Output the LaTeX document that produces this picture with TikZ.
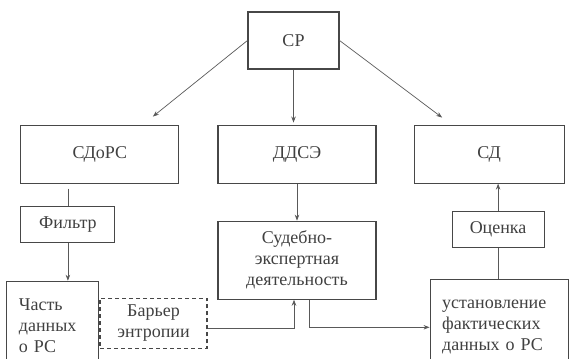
\documentclass[tikz,border=0pt]{standalone}
\usepackage{fontspec}
\setmainfont{Liberation Serif}
\usetikzlibrary{arrows.meta,positioning}

\begin{document}
\begin{tikzpicture}[
    x=1pt, y=1pt,
    font=\fontsize{18}{21}\selectfont,
    box/.style={draw=black!72, line width=1.1pt, text=black!75, align=center, inner sep=2pt},
    topbox/.style={box, minimum width=158pt, minimum height=58pt},
    smallbox/.style={box, minimum width=93pt, minimum height=36pt},
    textbox/.style={box, align=left, inner xsep=12pt},
    barbox/.style={box, dash pattern=on 4pt off 3pt},
    arr/.style={-{Stealth[length=6pt,width=4.5pt]}, black!65, line width=0.7pt},
    conn/.style={black!65, line width=0.7pt},
]
\useasboundingbox (0,0) rectangle (569,-358);
\node[box, minimum width=91pt, minimum height=57pt] (cr) at (293.5,-40.5) {СР};
\node[topbox, below=55pt of cr, xshift=3.5pt] (ddse) {ДДСЭ};
\node[topbox, left=38pt of ddse] (sdors) {СДоРС};
\node[topbox, minimum width=150pt, right=37pt of ddse] (sd) {СД};
\node[smallbox, minimum width=94pt, below=22pt of sdors.south west, anchor=north west] (filtr) {Фильтр};
\node[textbox, text width=68pt, minimum height=88pt, below=38pt of filtr.south west, anchor=north west, xshift=-14pt] (chast) {Часть\\данных\\о РС};
\node[barbox, minimum width=107pt, minimum height=50pt, right=0pt of chast, yshift=2pt] (barrier) {Барьер\\энтропии};
\node[topbox, minimum height=78pt, below=37pt of ddse] (sudeb) {Судебно-\\экспертная\\деятельность};
\node[smallbox, minimum width=92pt, below=27pt of sd, xshift=9pt] (ocenka) {Оценка};
\node[textbox, text width=114pt, minimum height=96pt, below=31pt of ocenka, xshift=1pt] (ustan) {установление\\фактических\\данных о РС};
% from the top box
\draw[arr] (cr.west) -- ([xshift=53pt,yshift=8pt]sdors.north);
\draw[arr] (cr.south) -- ([yshift=2pt]cr.south |- ddse.north);
\draw[arr] (cr.east) -- ([xshift=-47pt,yshift=7pt]sd.north);
% left branch
\draw[conn, shorten <=5pt] (filtr.north |- sdors.south) -- (filtr.north);
\draw[arr] (filtr.south) -- (filtr.south |- chast.north);
\draw[arr] ([yshift=-5pt]barrier.east) -| ([xshift=-3pt]sudeb.south);
% middle and right
\draw[arr] (ddse.south) -- (ddse.south |- sudeb.north);
\draw[arr] ([xshift=12pt]sudeb.south) |- (ustan.west);
\draw[conn] (ocenka.south |- ustan.north) -- (ocenka.south);
\draw[arr] (ocenka.north) -- (ocenka.north |- sd.south);
\end{tikzpicture}
\end{document}
